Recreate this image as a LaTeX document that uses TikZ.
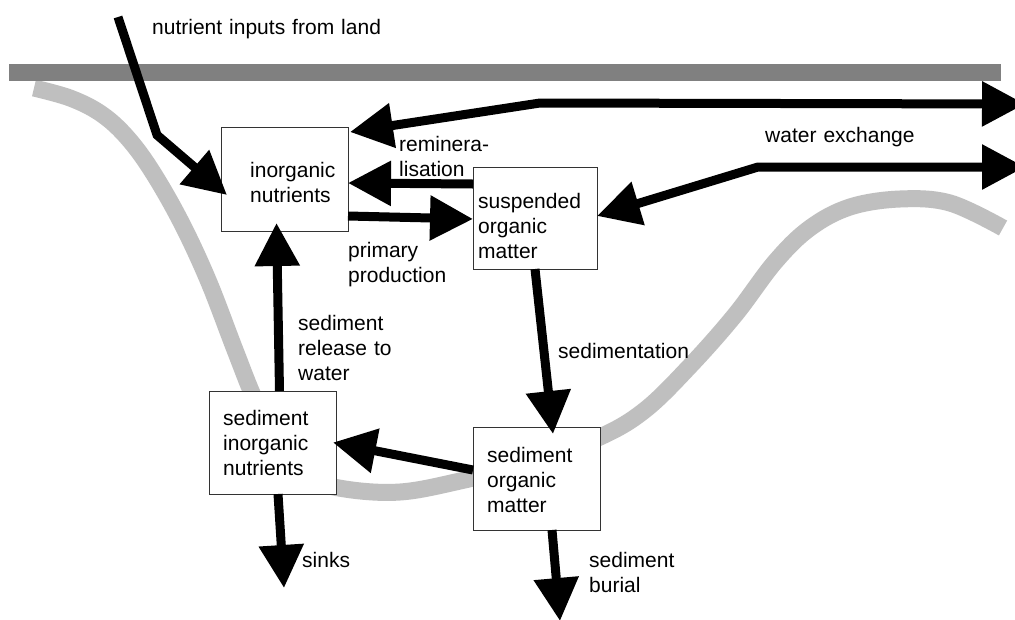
\documentclass[tikz,border=0pt]{standalone}
\usepackage{fontspec}
\setmainfont{Liberation Sans}
\usetikzlibrary{arrows.meta,calc}
\begin{document}
\begin{tikzpicture}[x=1pt,y=-1pt,
  box/.style={draw=black!80, line width=0.8pt, fill=white, rectangle,
    inner sep=0pt, outer sep=0pt},
  txt/.style={font=\fontsize{21}{25}\selectfont, align=left, text width=150pt,
    inner sep=0pt, anchor=base west},
  flow/.style={line width=9pt, -{Triangle[length=43pt,width=43pt]}},
  flowtwo/.style={line width=9pt,
    {Triangle[length=43pt,width=43pt]}-{Triangle[length=43pt,width=43pt]}},
  shore/.style={black!25, line width=17pt},
  surface/.style={fill=black!50, draw=none},
]
\useasboundingbox (0,0) rectangle (1015,619);
\clip (0,0) rectangle (1015,619);
\fill[white] (0,0) rectangle (1015,619);

% basin outline
\draw[shore] plot[smooth, tension=0.6] coordinates {
  (34,88) (70,98) (100,113) (125,135) (150,168) (180,220) (208,280)
  (235,350) (255,400) (280,450) (310,478) (345,489) (400,492) (460,481)
  (530,463) (600,437) (645,410) (690,366) (735,315) (775,262) (810,228)
  (850,207) (900,199) (950,203) (1003,228)};

% water surface
\fill[surface] (9,64) rectangle (1001,81);

% compartments
\node[box, minimum width=127pt, minimum height=104pt] (inorg) at (284.5,179) {};
\node[box, minimum width=124pt, minimum height=102pt] (susp) at (535,218) {};
\node[box, minimum width=127pt, minimum height=103pt] (sedin) at (272.5,442.5) {};
\node[box, minimum width=127pt, minimum height=103pt] (sedorg) at (536.5,478.5) {};

\node[txt] (inorg-t) at (250,177) {inorganic\\nutrients};
\node[txt] (susp-t) at (478,208) {suspended\\organic\\matter};
\node[txt] (sedin-t) at (223,425) {sediment\\inorganic\\nutrients};
\node[txt] (sedorg-t) at (487,462) {sediment\\organic\\matter};

% free ends of the flows
\coordinate (land) at (118,17);
\coordinate (outA) at (1025,104);
\coordinate (outB) at (1025,167);
\coordinate (sink) at (284,588);
\coordinate (burial) at (560,621);

% flows
\draw[flow] (land) -- (157,135) -- ($(inorg.west)+(6,16)$);
\draw[flowtwo] ($(inorg.north east)+(2,5)$) -- (540,103) -- (outA);
\draw[flowtwo] (outB) -- (758,167) -- (susp.east |- 0,216);
\draw[flow] (susp.west |- 0,184) -- (inorg.east |- 0,183);
\draw[flow] (inorg.east |- 0,216) -- (susp.west |- 0,219);
\draw[flow] ($(sedin.north)+(7,0)$) -- ($(inorg.south)+(-8,-8)$);
\draw[flow] (susp.south) -- ($(sedorg.north)+(16.5,7)$);
\draw[flow] ($(sedorg.west)+(0,-8.5)$) -- ($(sedin.east)+(-3,0)$);
\draw[flow] ($(sedin.south)+(5.5,0)$) -- (sink);
\draw[flow] ($(sedorg.south)+(15.5,0)$) -- (burial);

% flow labels
\node[txt, text width=300pt] (l-land) at (152,34) {nutrient inputs from land};
\node[txt] (l-remin) at (399,151) {reminera-\\lisation};
\node[txt] (l-prim) at (348,257) {primary\\production};
\node[txt] (l-water) at (765,142) {water exchange};
\node[txt] (l-rel) at (298,330) {sediment\\release to\\water};
\node[txt] (l-sed) at (558,358) {sedimentation};
\node[txt] (l-sink) at (302,567) {sinks};
\node[txt] (l-bur) at (589,567) {sediment\\burial};
\end{tikzpicture}
\end{document}
